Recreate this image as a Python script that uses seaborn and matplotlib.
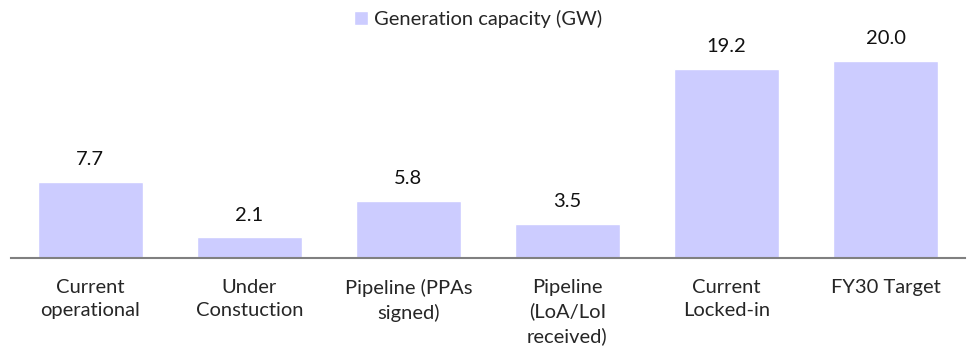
import matplotlib
matplotlib.use("Agg")
import matplotlib.pyplot as plt
import seaborn as sns
import pandas as pd

categories = ["Current\noperational", "Under\nConstuction", "Pipeline (PPAs\nsigned)",
              "Pipeline\n(LoA/LoI\nreceived)", "Current\nLocked-in", "FY30 Target"]
capacity = [7.7, 2.1, 5.8, 3.5, 19.2, 20.0]
series_name = "Generation capacity (GW)"

df = pd.DataFrame({"category": categories, "value": capacity, "series": series_name})

sns.set_style("white")
plt.rcParams["font.family"] = ["Lato", "DejaVu Sans"]

fig = plt.figure(figsize=(9.68, 3.61), dpi=100)
ax = fig.add_axes([0.011, 0.285, 0.986, 0.601])

sns.barplot(data=df, x="category", y="value", hue="series", palette=["#CCCCFF"],
            width=0.66, saturation=1, ax=ax)

for c in ax.containers:
    ax.bar_label(c, fmt="%.1f", padding=10, fontsize=14.5, color="#111111")

ax.set_ylim(0, 22)
ax.set_xlim(-0.5, 5.5)
ax.set_xlabel("")
ax.set_ylabel("")
ax.set_yticks([])
for s in ["top", "right", "left"]:
    ax.spines[s].set_visible(False)
ax.spines["bottom"].set_color("#808080")
ax.spines["bottom"].set_linewidth(1.5)
ax.tick_params(axis="x", length=0, pad=15, labelsize=14.5)
for t in ax.get_xticklabels():
    t.set_linespacing(1.45)
    t.set_verticalalignment("top")

leg = ax.legend(loc="upper center", bbox_to_anchor=(0.49, 1.145), frameon=False,
                fontsize=14.5, handlelength=0.7, handleheight=0.7, handletextpad=0.3,
                borderaxespad=0, borderpad=0)

fig.savefig("out.png", dpi=100)
